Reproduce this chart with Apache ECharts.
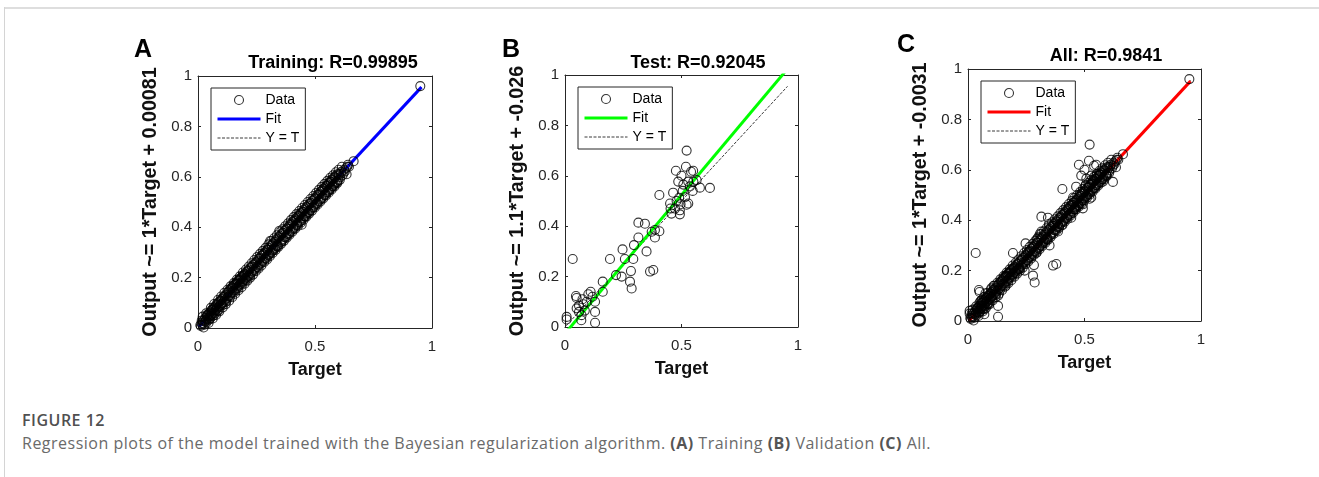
<!DOCTYPE html>
<html>
<head>
<meta charset="utf-8">
<script src="https://cdn.jsdelivr.net/npm/echarts@6/dist/echarts.min.js"></script>
<style>
  html, body { margin: 0; padding: 0; background: #fff; }
  body { width: 1319px; height: 477px; position: relative; overflow: hidden; }
  .frame-top { position: absolute; left: 4px; top: 7px; width: 1315px; height: 2px; background: #dedede; }
  .frame-left { position: absolute; left: 4px; top: 7px; width: 1px; height: 470px; background: #d4d4d4; }
  .panel { position: absolute; }
  .caption { position: absolute; left: 22px; top: 409px; font-family: 'Open Sans', 'Noto Sans', sans-serif; letter-spacing: 0.5px; }
  .caption .fig { font-size: 16px; font-weight: 600; color: #505050; line-height: 22px; }
  .caption .text { font-size: 16px; color: #6a6a6a; line-height: 22px; margin-top: 1px; }
  .caption b { color: #555; }
</style>
</head>
<body>
<div class="frame-top"></div>
<div class="frame-left"></div>
<div id="panelA" class="panel"></div>
<div id="panelB" class="panel"></div>
<div id="panelC" class="panel"></div>
<div class="caption">
  <div class="fig">FIGURE 12</div>
  <div class="text">Regression plots of the model trained with the Bayesian regularization algorithm. <b>(A)</b> Training <b>(B)</b> Validation <b>(C)</b> All.</div>
</div>
<script>
// ---- data ----
const panelTitles = ['Training', 'Test', 'All'];
const rValues = [0.99895, 0.92045, 0.9841];
const fitSlope = [1, 1.1, 1];
const fitIntercept = [0.00081, -0.026, -0.0031];
const lineSpan = [0.005, 0.955];          // target range covered by the fit and Y = T lines
const xTicks = [0, 0.5, 1];
const yTicks = [0, 0.2, 0.4, 0.6, 0.8, 1];

// training set: [target, output]
const trainPoints = [
  [0.010,0.012],[0.012,0.008],[0.015,0.020],[0.018,0.014],[0.020,0.045],[0.022,0.028],[0.025,0.019],[0.027,0.033],
  [0.030,0.026],[0.032,0.040],[0.034,0.030],[0.036,0.022],[0.038,0.047],[0.040,0.036],[0.042,0.052],[0.044,0.041],
  [0.046,0.033],[0.048,0.058],[0.050,0.047],[0.052,0.039],[0.054,0.062],[0.056,0.051],[0.058,0.070],[0.060,0.055],
  [0.062,0.048],[0.064,0.075],[0.066,0.061],[0.068,0.080],[0.070,0.066],[0.072,0.058],[0.074,0.085],[0.076,0.071],
  [0.078,0.093],[0.080,0.077],[0.083,0.068],[0.085,0.098],[0.088,0.082],[0.090,0.104],[0.093,0.087],[0.096,0.109],
  [0.098,0.092],[0.100,0.096],[0.102,0.115],[0.105,0.099],[0.107,0.121],[0.110,0.104],[0.112,0.126],[0.115,0.110],
  [0.117,0.102],[0.120,0.131],[0.122,0.117],[0.125,0.140],[0.127,0.121],[0.130,0.145],[0.132,0.126],[0.135,0.150],
  [0.137,0.131],[0.140,0.156],[0.142,0.138],[0.145,0.160],[0.147,0.141],[0.150,0.166],[0.152,0.148],[0.155,0.171],
  [0.157,0.150],[0.160,0.175],[0.162,0.156],[0.165,0.180],[0.167,0.160],[0.170,0.186],[0.172,0.165],[0.175,0.190],
  [0.177,0.171],[0.180,0.196],[0.182,0.175],[0.185,0.200],[0.187,0.181],[0.190,0.206],[0.193,0.186],[0.196,0.211],
  [0.198,0.192],[0.200,0.215],[0.203,0.197],[0.206,0.221],[0.209,0.201],[0.212,0.226],[0.215,0.207],[0.218,0.232],
  [0.221,0.212],[0.224,0.238],[0.227,0.219],[0.230,0.245],[0.233,0.224],[0.236,0.250],[0.239,0.230],[0.242,0.256],
  [0.245,0.236],[0.248,0.262],[0.251,0.242],[0.254,0.268],[0.257,0.248],[0.260,0.275],[0.263,0.253],[0.266,0.280],
  [0.269,0.260],[0.272,0.287],[0.275,0.265],[0.278,0.293],[0.281,0.271],[0.284,0.298],[0.287,0.277],[0.290,0.304],
  [0.293,0.283],[0.296,0.310],[0.299,0.289],[0.302,0.318],[0.305,0.295],[0.308,0.345],[0.311,0.300],[0.314,0.330],
  [0.317,0.307],[0.320,0.335],[0.323,0.312],[0.326,0.342],[0.329,0.318],[0.332,0.348],[0.335,0.324],[0.338,0.354],
  [0.341,0.330],[0.344,0.360],[0.347,0.385],[0.350,0.366],[0.353,0.342],[0.356,0.372],[0.359,0.347],[0.362,0.378],
  [0.365,0.353],[0.368,0.385],[0.371,0.360],[0.374,0.390],[0.377,0.365],[0.380,0.396],[0.383,0.372],[0.386,0.402],
  [0.389,0.377],[0.392,0.408],[0.395,0.384],[0.398,0.414],[0.401,0.390],[0.404,0.420],[0.407,0.396],[0.410,0.426],
  [0.413,0.402],[0.416,0.432],[0.419,0.407],[0.422,0.438],[0.425,0.414],[0.428,0.444],[0.431,0.420],[0.434,0.451],
  [0.437,0.425],[0.440,0.456],[0.443,0.410],[0.446,0.462],[0.449,0.437],[0.452,0.468],[0.455,0.443],[0.458,0.474],
  [0.461,0.450],[0.464,0.480],[0.467,0.455],[0.470,0.486],[0.473,0.461],[0.476,0.492],[0.479,0.467],[0.482,0.498],
  [0.485,0.474],[0.488,0.504],[0.491,0.479],[0.494,0.510],[0.497,0.486],[0.500,0.516],[0.503,0.491],[0.506,0.522],
  [0.509,0.497],[0.512,0.528],[0.515,0.503],[0.518,0.534],[0.521,0.509],[0.524,0.540],[0.527,0.515],[0.530,0.546],
  [0.533,0.521],[0.536,0.552],[0.539,0.527],[0.542,0.558],[0.545,0.533],[0.548,0.564],[0.551,0.539],[0.554,0.570],
  [0.557,0.545],[0.560,0.576],[0.563,0.551],[0.566,0.582],[0.569,0.557],[0.572,0.588],[0.575,0.563],[0.578,0.594],
  [0.581,0.569],[0.584,0.599],[0.587,0.575],[0.590,0.605],[0.593,0.581],[0.596,0.610],[0.599,0.587],[0.603,0.612],
  [0.607,0.598],[0.612,0.620],[0.618,0.606],[0.625,0.628],[0.632,0.634],[0.638,0.640],[0.645,0.640],[0.665,0.662],
  [0.950,0.960],
  [0.024,0.002],[0.035,0.058],[0.045,0.020],[0.055,0.080],[0.063,0.038],[0.069,0.095],[0.077,0.052],[0.086,0.112],
  [0.091,0.066],[0.099,0.125],[0.106,0.082],[0.113,0.140],[0.119,0.095],[0.126,0.152],[0.133,0.108],[0.139,0.165],
  [0.146,0.122],[0.153,0.178],[0.159,0.136],[0.166,0.192],[0.173,0.150],[0.179,0.205],[0.186,0.162],[0.192,0.220],
  [0.199,0.176],[0.205,0.232],[0.211,0.188],[0.217,0.244],[0.223,0.200],[0.229,0.257],[0.235,0.212],[0.241,0.270],
  [0.247,0.225],[0.253,0.282],[0.259,0.236],[0.265,0.294],[0.271,0.248],[0.277,0.306],[0.283,0.262],[0.289,0.318],
  [0.295,0.272],[0.301,0.332],[0.307,0.285],[0.313,0.344],[0.319,0.298],[0.325,0.356],[0.331,0.310],[0.337,0.368],
  [0.343,0.322],[0.349,0.380],[0.355,0.334],[0.361,0.392],[0.367,0.346],[0.373,0.404],[0.379,0.358],[0.385,0.415],
  [0.391,0.370],[0.397,0.428],[0.403,0.382],[0.409,0.440],[0.415,0.394],[0.421,0.452],[0.427,0.405],[0.433,0.464],
  [0.439,0.418],[0.445,0.476],[0.451,0.430],[0.457,0.488],[0.463,0.442],[0.469,0.500],[0.475,0.454],[0.481,0.512],
  [0.487,0.466],[0.493,0.524],[0.499,0.478],[0.505,0.536],[0.511,0.490],[0.517,0.548],[0.523,0.502],[0.529,0.560],
  [0.535,0.514],[0.541,0.572],[0.547,0.526],[0.553,0.584],[0.559,0.538],[0.565,0.596],[0.571,0.550],[0.577,0.606],
  [0.583,0.562],[0.589,0.618],[0.595,0.575],[0.601,0.628],[0.606,0.588],[0.615,0.640],[0.622,0.615],[0.628,0.622],
  [0.635,0.610],[0.641,0.648],
  [0.016,0.030],[0.028,0.013],[0.039,0.052],[0.049,0.034],[0.059,0.072],[0.067,0.050],[0.079,0.090],[0.087,0.070],
  [0.097,0.108],[0.104,0.090],[0.114,0.125],[0.121,0.107],[0.131,0.142],[0.138,0.124],[0.148,0.158],[0.156,0.142],
  [0.164,0.175],[0.171,0.157],[0.181,0.191],[0.189,0.175],[0.197,0.208],[0.204,0.190],[0.214,0.225],[0.222,0.207],
  [0.231,0.242],[0.238,0.224],[0.249,0.259],[0.256,0.241],[0.265,0.276],[0.273,0.258],[0.282,0.292],[0.290,0.275],
  [0.298,0.309],[0.306,0.292],[0.315,0.326],[0.322,0.308],[0.333,0.343],[0.340,0.325],[0.348,0.360],[0.357,0.342],
  [0.366,0.377],[0.374,0.358],[0.382,0.393],[0.390,0.375],[0.399,0.410],[0.407,0.392],[0.417,0.427],[0.424,0.409],
  [0.432,0.444],[0.441,0.426],[0.450,0.461],[0.458,0.443],[0.466,0.478],[0.474,0.460],[0.484,0.495],[0.492,0.477],
  [0.500,0.512],[0.508,0.494],[0.518,0.529],[0.526,0.511],[0.534,0.546],[0.543,0.528],[0.552,0.563],[0.560,0.545],
  [0.568,0.580],[0.576,0.562],[0.586,0.597],[0.594,0.579],[0.602,0.606],[0.610,0.612]
];

// test set: [target, output]
const testPoints = [
  [0.033,0.270],[0.007,0.040],[0.007,0.030],[0.047,0.123],[0.050,0.115],[0.050,0.074],[0.060,0.060],[0.071,0.047],
  [0.070,0.027],[0.079,0.090],[0.093,0.100],[0.100,0.130],[0.110,0.140],[0.118,0.120],[0.129,0.100],[0.129,0.060],
  [0.129,0.017],[0.162,0.180],[0.162,0.140],[0.193,0.270],[0.219,0.206],[0.243,0.200],[0.247,0.308],[0.257,0.270],
  [0.283,0.222],[0.279,0.180],[0.286,0.153],[0.293,0.270],[0.296,0.325],[0.315,0.355],[0.315,0.414],[0.343,0.410],
  [0.350,0.300],[0.365,0.220],[0.379,0.226],[0.372,0.378],[0.386,0.385],[0.386,0.355],[0.405,0.380],[0.405,0.524],
  [0.451,0.490],[0.453,0.470],[0.457,0.450],[0.464,0.533],[0.472,0.470],[0.476,0.620],[0.479,0.500],[0.486,0.577],
  [0.490,0.513],[0.493,0.463],[0.496,0.487],[0.493,0.447],[0.500,0.600],[0.505,0.540],[0.508,0.565],[0.515,0.515],
  [0.519,0.636],[0.522,0.700],[0.522,0.485],[0.529,0.577],[0.529,0.490],[0.536,0.558],[0.541,0.616],[0.548,0.540],
  [0.551,0.577],[0.565,0.583],[0.579,0.553],[0.622,0.552],[0.550,0.620],[0.085,0.065],[0.075,0.110],[0.060,0.085]
];

// all samples
const allPoints = trainPoints.concat(testPoints);

// ---- layout (page pixels) ----
const panels = [
  { id: 'panelA', letter: 'A', div: [110, 20, 350, 370], box: [198, 76, 234, 252], titleAt: [333, 63], letterAt: [143, 50], color: '#0000ff', points: trainPoints },
  { id: 'panelB', letter: 'B', div: [480, 20, 350, 370], box: [565, 75, 233, 252], titleAt: [698, 63], letterAt: [511, 50], color: '#00ff00', points: testPoints },
  { id: 'panelC', letter: 'C', div: [870, 20, 350, 370], box: [968, 69, 233, 252], titleAt: [1106, 56], letterAt: [906, 45], color: '#ff0000', points: allPoints }
];

const FONT = "'Liberation Sans', Arial, sans-serif";
const INK = '#262626';

function axisBase(ticks) {
  return {
    type: 'value',
    min: ticks[0],
    max: ticks[ticks.length - 1],
    interval: ticks[1] - ticks[0],
    splitLine: { show: false },
    axisLine: { show: true, onZero: false, lineStyle: { color: INK, width: 1 } },
    axisTick: { show: true, inside: true, length: 3, lineStyle: { color: INK, width: 1 } },
    axisLabel: { color: INK, fontSize: 15, fontFamily: FONT }
  };
}

panels.forEach(function (p, i) {
  const el = document.getElementById(p.id);
  const [dl, dt, dw, dh] = p.div;
  el.style.left = dl + 'px';
  el.style.top = dt + 'px';
  el.style.width = dw + 'px';
  el.style.height = dh + 'px';
  const chart = echarts.init(el, null, { renderer: 'canvas' });
  const [bx, by, bw, bh] = p.box;

  const fitLine = lineSpan.map(function (t) { return [t, fitSlope[i] * t + fitIntercept[i]]; });
  const idLine = lineSpan.map(function (t) { return [t, t]; });
  const yName = 'Output ~= ' + fitSlope[i] + '*Target + ' + fitIntercept[i];

  chart.setOption({
    animation: false,
    backgroundColor: 'transparent',
    grid: { left: bx - dl, top: by - dt, width: bw, height: bh },
    xAxis: [
      Object.assign(axisBase(xTicks), {
        position: 'bottom',
        name: 'Target', nameLocation: 'middle', nameGap: 33,
        nameTextStyle: { fontSize: 18, fontWeight: 'bold', color: '#111', fontFamily: FONT },
        axisLabel: { color: INK, fontSize: 15, fontFamily: FONT, margin: 11 }
      }),
      Object.assign(axisBase(xTicks), { position: 'top', axisLabel: { show: false } })
    ],
    yAxis: [
      Object.assign(axisBase(yTicks), {
        position: 'left',
        name: yName, nameLocation: 'middle', nameGap: 26, nameRotate: 90,
        nameTextStyle: { fontSize: 19.7, fontWeight: 'bold', color: '#111', fontFamily: FONT },
        axisLabel: { color: INK, fontSize: 15, fontFamily: FONT, margin: 6 }
      }),
      Object.assign(axisBase(yTicks), { position: 'right', axisLabel: { show: false } })
    ],
    legend: {
      left: bx - dl + 13,
      top: by - dt + 12,
      orient: 'vertical',
      data: ['Data', 'Fit', 'Y = T'],
      selectedMode: false,
      itemWidth: 43,
      itemHeight: 9,
      itemGap: 3,
      padding: [4, 6, 4, 5],
      borderColor: INK,
      borderWidth: 1,
      backgroundColor: '#fff',
      itemStyle: { borderWidth: 'inherit' },
      lineStyle: { width: 'inherit' },
      textStyle: { fontSize: 14, color: '#000', fontFamily: FONT, lineHeight: 16 }
    },
    graphic: [
      {
        type: 'text', silent: true,
        x: p.titleAt[0] - dl, y: p.titleAt[1] - dt,
        style: {
          text: panelTitles[i] + ': R=' + rValues[i],
          fontSize: 18, fontWeight: 'bold', fontFamily: FONT, fill: '#000',
          align: 'center', verticalAlign: 'middle'
        }
      },
      {
        type: 'text', silent: true,
        x: p.letterAt[0] - dl, y: p.letterAt[1] - dt,
        style: {
          text: p.letter,
          fontSize: 25, fontWeight: 'bold', fontFamily: FONT, fill: '#000',
          align: 'center', verticalAlign: 'middle'
        }
      }
    ],
    series: [
      {
        name: 'Y = T', type: 'line', data: idLine, symbol: 'none', clip: true, z: 1,
        itemStyle: { color: 'rgba(0,0,0,0)', borderWidth: 0 },
        lineStyle: { color: '#3a3a3a', width: 1, type: [3, 1.5] }
      },
      {
        name: 'Fit', type: 'line', data: fitLine, symbol: 'none', clip: true, z: 2,
        itemStyle: { color: 'rgba(0,0,0,0)', borderWidth: 0 },
        lineStyle: { color: p.color, width: 3 }
      },
      {
        name: 'Data', type: 'scatter', data: p.points, symbol: 'circle', symbolSize: 9, z: 3,
        itemStyle: { color: 'rgba(0,0,0,0)', borderColor: '#000', borderWidth: 1.1 }
      }
    ]
  });
});
</script>
</body>
</html>
